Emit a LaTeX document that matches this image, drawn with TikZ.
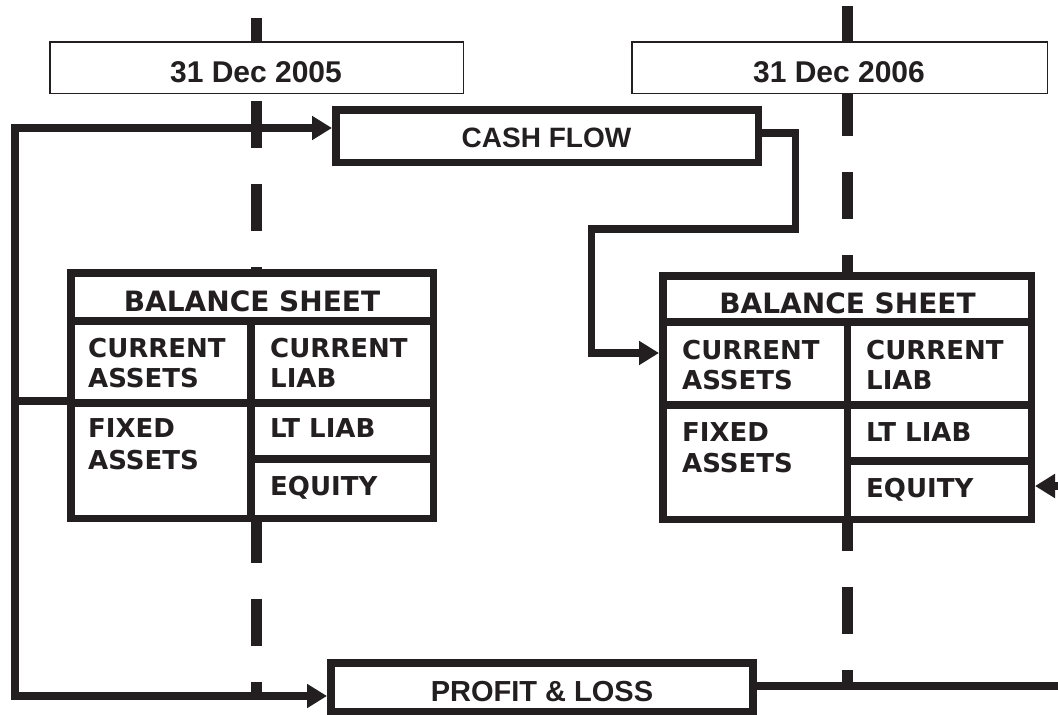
\documentclass[tikz,border=0pt]{standalone}
\usepackage{fontspec}
\setmainfont{Liberation Sans}
\newfontfamily\vfont{DejaVu Sans}
\usetikzlibrary{arrows.meta}
\definecolor{ink}{HTML}{231F20}
\begin{document}
\begin{tikzpicture}[x=1pt,y=-1pt,
  timeline/.style={ink, line width=11pt, dash pattern=on 47pt off 36pt},
  datebox/.style={draw=ink, line width=1.5pt, fill=white, minimum width=413.5pt, minimum height=51.5pt, inner sep=0pt},
  flowbox/.style={draw=ink, line width=7.5pt, fill=white, minimum width=422.5pt, minimum height=52.5pt, inner sep=0pt},
  sheet/.style={draw=ink, line width=7.5pt, fill=white, inner sep=0pt},
  gridline/.style={ink, line width=7.5pt},
  conn/.style={ink, line width=7.5pt},
  tip/.style={-{Triangle[length=20pt,width=23pt]}},
  datetext/.style={text=ink, inner sep=0pt, font=\fontsize{30}{34}\selectfont\bfseries},
  flowtext/.style={text=ink, inner sep=0pt, font=\fontsize{28}{32}\selectfont\bfseries},
  headtext/.style={text=ink, inner sep=0pt, anchor=base, font=\vfont\bfseries\fontsize{28}{32}\selectfont},
  celltext/.style={text=ink, inner sep=0pt, anchor=base west, font=\vfont\bfseries\fontsize{26}{30}\selectfont}
]
\useasboundingbox (0,0) rectangle (1058,715);
\clip (0,0) rectangle (1058,715);

% time lines
\coordinate (l1top) at (256.5,18);
\coordinate (l1bot) at (256.5,692);
\coordinate (l2top) at (847.5,6);
\coordinate (l2bot) at (847.5,682);
\draw[timeline] (l1top) -- (l1bot);
\draw[timeline] (l2top) -- (l2bot);

% date boxes
\node[datebox] (d1) at (256.5,67.5) {};
\node[datebox, minimum width=415.5pt] (d2) at (839.5,67.5) {};
\node[datetext, anchor=base] (d1t) at (256,82.5) {31 Dec 2005};
\node[datetext, anchor=base] (d2t) at (839,82.5) {31 Dec 2006};

% cash flow and profit & loss
\node[flowbox] (cf) at (547,136) {};
\node[flowtext, anchor=base] (cft) at (546.5,147) {CASH FLOW};
\node[flowbox, line width=8pt, minimum width=422pt, minimum height=49pt] (pl) at (542,687.5) {};
\node[flowtext, font=\fontsize{29}{33}\selectfont\bfseries, anchor=base] (plt) at (542,701) {PROFIT \& LOSS};

% balance sheet 2005
\node[sheet, minimum width=362.5pt, minimum height=245.5pt] (bs1) at (252,395.5) {};
\draw[gridline] (67,321) -- (437,321);
\draw[gridline] (251,321) -- (251,522);
\draw[gridline] (67,403) -- (437,403);
\draw[gridline] (251,459) -- (437,459);
\node[headtext] (bs1h) at (252,311.5) {BALANCE SHEET};
\node[celltext] (bs1a1) at (88,357) {CURRENT};
\node[celltext] (bs1a2) at (88,387) {ASSETS};
\node[celltext] (bs1b1) at (270,357) {CURRENT};
\node[celltext] (bs1b2) at (270,387) {LIAB};
\node[celltext] (bs1c1) at (88,437) {FIXED};
\node[celltext] (bs1c2) at (88,469) {ASSETS};
\node[celltext] (bs1d) at (270,437) {LT LIAB};
\node[celltext] (bs1e) at (270,495) {EQUITY};

% balance sheet 2006
\node[sheet, minimum width=368.5pt, minimum height=243.5pt] (bs2) at (847,397.5) {};
\draw[gridline] (659,322) -- (1035,322);
\draw[gridline] (847.5,322) -- (847.5,523);
\draw[gridline] (659,405) -- (1035,405);
\draw[gridline] (847.5,461) -- (1035,461);
\node[headtext] (bs2h) at (847.5,313) {BALANCE SHEET};
\node[celltext] (bs2a1) at (682,359) {CURRENT};
\node[celltext] (bs2a2) at (682,389) {ASSETS};
\node[celltext] (bs2b1) at (866,359) {CURRENT};
\node[celltext] (bs2b2) at (866,389) {LIAB};
\node[celltext] (bs2c1) at (682,441) {FIXED};
\node[celltext] (bs2c2) at (682,472) {ASSETS};
\node[celltext] (bs2d) at (866,441) {LT LIAB};
\node[celltext] (bs2e) at (866,497) {EQUITY};

% connectors
\coordinate (j1) at (15,401);
\draw[conn] (j1) -- (j1 -| bs1.west);
\draw[conn, tip] (j1) |- ([yshift=8pt]cf.west);
\draw[conn, tip] (j1) |- ([yshift=-8.5pt]pl.west);

\coordinate (c1) at (795.5,229);
\coordinate (c2) at (591.5,353);
\draw[conn, tip] ([yshift=3pt]cf.east) -| (c1) -| (c2) -- (c2 -| bs2.west);

\coordinate (r1) at (1075,486);
\draw[conn, tip] ([yshift=1.5pt]pl.east) -| (r1) -- (r1 -| bs2.east);
\end{tikzpicture}
\end{document}
